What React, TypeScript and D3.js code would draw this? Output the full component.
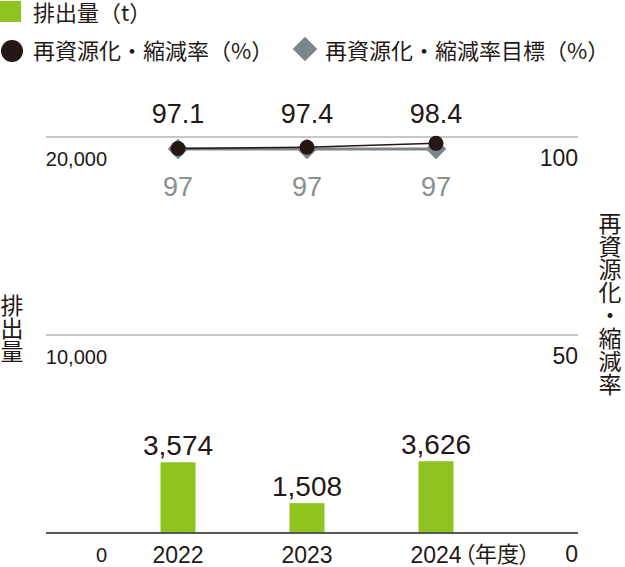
import React from 'react';
import * as d3 from 'd3';

const years = ['2022', '2023', '2024'];
const emissions = [3574, 1508, 3626];
const rates = [97.1, 97.4, 98.4];
const targets = [97, 97, 97];
const leftTicks = [0, 10000, 20000];
const rightTicks = [0, 50, 100];

const W = 625;
const H = 567;
const NUM = '"Liberation Sans", Arial, sans-serif';
const JP = '"Noto Sans CJK JP", "Noto Sans", sans-serif';
const DARK = '#231815';
const GREEN = '#8fc31f';
const GRAY = '#7d8588';
const GRAYTXT = '#8a8f91';

export default function App() {
  const x = d3.scalePoint<string>().domain(years).range([178, 436]);
  const yL = d3.scaleLinear().domain([0, 20000]).range([533, 137]);
  const yR = d3.scaleLinear().domain([0, 100]).range([533, 137]);
  const x0 = 46;
  const x1 = 578;
  const barW = 35;

  const rateLine = d3
    .line<number>()
    .x((_, i) => x(years[i]) as number)
    .y((d) => yR(d));

  const diamond = d3.symbol().type(d3.symbolSquare).size(210)();
  const diamondLegend = d3.symbol().type(d3.symbolSquare).size(300)();
  const fmt = d3.format(',');

  return (
    <div style={{ position: 'absolute', left: 0, top: 0 }}>
      <svg width={W} height={H} viewBox={`0 0 ${W} ${H}`} style={{ display: 'block' }}>
        {/* legend */}
        <rect x={0} y={1} width={21} height={21} fill={GREEN} />
        <text x={33} y={21} fontFamily={JP} fontSize={22} fill={DARK}>排出量（t）</text>
        <circle cx={12} cy={51} r={11} fill={DARK} />
        <text x={33} y={59} fontFamily={JP} fontSize={22} fill={DARK}>再資源化・縮減率（%）</text>
        <path d={diamondLegend} transform="translate(305,49) rotate(45)" fill={GRAY} />
        <text x={325} y={59} fontFamily={JP} fontSize={22} fill={DARK}>再資源化・縮減率目標（%）</text>

        {/* gridlines */}
        {leftTicks.filter((t) => t > 0).map((t) => (
          <line key={t} x1={x0} x2={x1} y1={yL(t)} y2={yL(t)} stroke="#b5b5b5" strokeWidth={1.3} />
        ))}

        {/* left ticks */}
        {leftTicks.map((t) => (
          <text key={t} x={107} y={yL(t) + 29} textAnchor="end" fontFamily={NUM} fontSize={20} fill={DARK}>
            {fmt(t)}
          </text>
        ))}
        {/* right ticks */}
        {rightTicks.map((t) => (
          <text key={t} x={578} y={yR(t) + 29} textAnchor="end" fontFamily={NUM} fontSize={23} fill={DARK}>
            {t}
          </text>
        ))}

        {/* bars */}
        {emissions.map((v, i) => (
          <g key={years[i]}>
            <rect
              x={(x(years[i]) as number) - barW / 2}
              y={yL(v)}
              width={barW}
              height={yL(0) - yL(v)}
              fill={GREEN}
            />
            <text
              x={x(years[i]) as number}
              y={yL(v) - 7}
              textAnchor="middle"
              fontFamily={NUM}
              fontSize={28}
              fill={DARK}
            >
              {fmt(v)}
            </text>
          </g>
        ))}

        {/* baseline */}
        <line x1={x0} x2={x1} y1={yL(0)} y2={yL(0)} stroke="#595757" strokeWidth={2} />

        {/* target line */}
        <path d={rateLine(targets) || ''} fill="none" stroke={GRAY} strokeWidth={3} />
        {targets.map((v, i) => (
          <path key={i} d={diamond} transform={`translate(${x(years[i])},${yR(v)}) rotate(45)`} fill={GRAY} />
        ))}
        {/* rate line */}
        <path d={rateLine(rates) || ''} fill="none" stroke={DARK} strokeWidth={1.5} />
        {rates.map((v, i) => (
          <circle key={i} cx={x(years[i]) as number} cy={yR(v)} r={7.5} fill={DARK} />
        ))}

        {/* rate labels */}
        {rates.map((v, i) => (
          <text key={i} x={x(years[i]) as number} y={yR(100) - 14} textAnchor="middle" fontFamily={NUM} fontSize={27} fill={DARK}>
            {v.toFixed(1)}
          </text>
        ))}
        {targets.map((v, i) => (
          <text key={i} x={x(years[i]) as number} y={yR(100) + 59} textAnchor="middle" fontFamily={NUM} fontSize={27} fill={GRAYTXT}>
            {v}
          </text>
        ))}

        {/* year labels */}
        {years.map((yr) => (
          <text key={yr} x={x(yr) as number} y={563} textAnchor="middle" fontFamily={NUM} fontSize={23} fill={DARK}>
            {yr}
          </text>
        ))}
        <text
          x={(x(years[years.length - 1]) as number) + 28}
          y={562}
          fontFamily={JP}
          fontSize={22}
          fill={DARK}
          style={{ fontFeatureSettings: '"palt"' }}
        >
          （年度）
        </text>

        {/* axis titles */}
        <text x={12} y={294} fontFamily={JP} fontSize={23} fill={DARK} style={{ writingMode: 'vertical-rl' }}>
          排出量
        </text>
        <text x={610} y={212} fontFamily={JP} fontSize={23} fill={DARK} style={{ writingMode: 'vertical-rl' }}>
          再資源化・縮減率
        </text>
      </svg>
    </div>
  );
}
